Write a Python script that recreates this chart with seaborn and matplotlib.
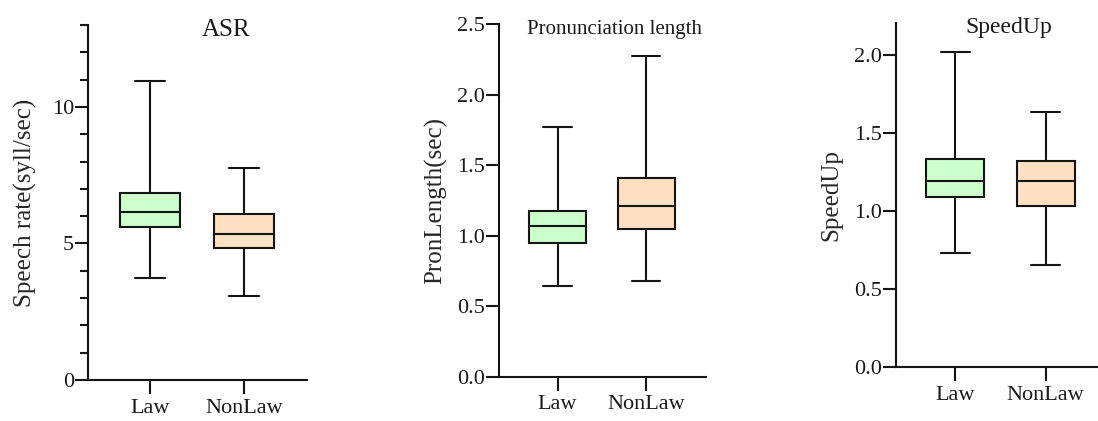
import matplotlib
matplotlib.use("Agg")
import matplotlib.pyplot as plt
from matplotlib.ticker import MultipleLocator, FixedLocator, FormatStrFormatter
import numpy as np
import pandas as pd
import seaborn as sns

# Five-number summaries (min, Q1, median, Q3, max) per group
groups = ["Law", "NonLaw"]

asr_law = [3.73, 5.61, 6.17, 6.86, 10.94]
asr_nonlaw = [3.07, 4.83, 5.34, 6.08, 7.76]

pron_law = [0.643, 0.948, 1.069, 1.173, 1.769]
pron_nonlaw = [0.681, 1.048, 1.209, 1.410, 2.275]

speed_law = [0.734, 1.086, 1.191, 1.332, 2.019]
speed_nonlaw = [0.653, 1.033, 1.189, 1.321, 1.635]

titles = ["ASR", "Pronunciation length", "SpeedUp"]
ylabels = ["Speech rate(syll/sec)", "PronLength(sec)", "SpeedUp"]

box_colors = ["#CCFFCC", "#FFE0C2"]
edge = "#141414"

sns.set_style("ticks")
plt.rcParams["font.family"] = ["Liberation Serif", "DejaVu Serif"]
plt.rcParams["axes.linewidth"] = 1.5


def frame(law, nonlaw):
    return pd.DataFrame({
        "group": ["Law"] * len(law) + ["NonLaw"] * len(nonlaw),
        "value": list(law) + list(nonlaw),
    })


fig = plt.figure(figsize=(10.98, 4.21), dpi=100)
W, H = 1098.0, 421.0

# axes boxes in pixel terms: left, right, top, bottom
boxes = [
    (88.0, 307.0, 25.0, 380.0),
    (499.0, 705.7, 24.3, 376.7),
    (895.7, 1106.3, 23.3, 367.3),
]
axes = []
for (l, r, t, b) in boxes:
    axes.append(fig.add_axes([l / W, 1 - b / H, (r - l) / W, (b - t) / H]))

datasets = [(asr_law, asr_nonlaw), (pron_law, pron_nonlaw), (speed_law, speed_nonlaw)]
ylims = [(0, 13), (0, 2.5), (0, 2.2)]
title_pos = [(0.630, 0.969, 18), (0.561, 0.9716, 15), (0.538, 0.971, 17)]
label_x = [-0.233, -0.252, -0.255]

for i, ax in enumerate(axes):
    df = frame(*datasets[i])
    sns.boxplot(data=df, x="group", y="value", hue="group", order=groups,
                hue_order=groups, palette=box_colors, saturation=1,
                whis=(0, 100), width=0.64, linewidth=1.5, linecolor=edge,
                legend=False, ax=ax)
    ax.set_xlim(-0.66, 1.67)
    ax.set_ylim(*ylims[i])
    sns.despine(ax=ax)
    for s in ("left", "bottom"):
        ax.spines[s].set_color(edge)
        ax.spines[s].set_linewidth(1.5)

    ax.set_xlabel("")
    ax.set_ylabel(ylabels[i], fontsize=18)
    ax.yaxis.set_label_coords(label_x[i], 0.5)

    ax.tick_params(axis="x", length=10, width=1.5, color=edge, labelsize=16,
                   pad=3.5, labelcolor="#1a1a1a")
    ax.tick_params(axis="y", which="major", length=9.5, width=1.5, color=edge,
                   labelsize=16, pad=0.5, labelcolor="#1a1a1a")
    tx, ty, fs = title_pos[i]
    ax.text(tx, ty, titles[i], transform=ax.transAxes, ha="center",
            va="baseline", fontsize=fs, color="#1a1a1a")

axes[0].yaxis.set_major_locator(FixedLocator([0, 5, 10]))
axes[0].yaxis.set_minor_locator(FixedLocator([1, 2, 3, 4, 6, 7, 8, 9, 11, 12, 13]))
axes[0].tick_params(axis="y", which="minor", length=6, width=1.5, color=edge)
axes[1].yaxis.set_major_locator(MultipleLocator(0.5))
axes[1].yaxis.set_major_formatter(FormatStrFormatter("%.1f"))
axes[2].yaxis.set_major_locator(FixedLocator([0, 0.5, 1.0, 1.5, 2.0]))
axes[2].yaxis.set_major_formatter(FormatStrFormatter("%.1f"))

fig.savefig("out.png", dpi=100)
